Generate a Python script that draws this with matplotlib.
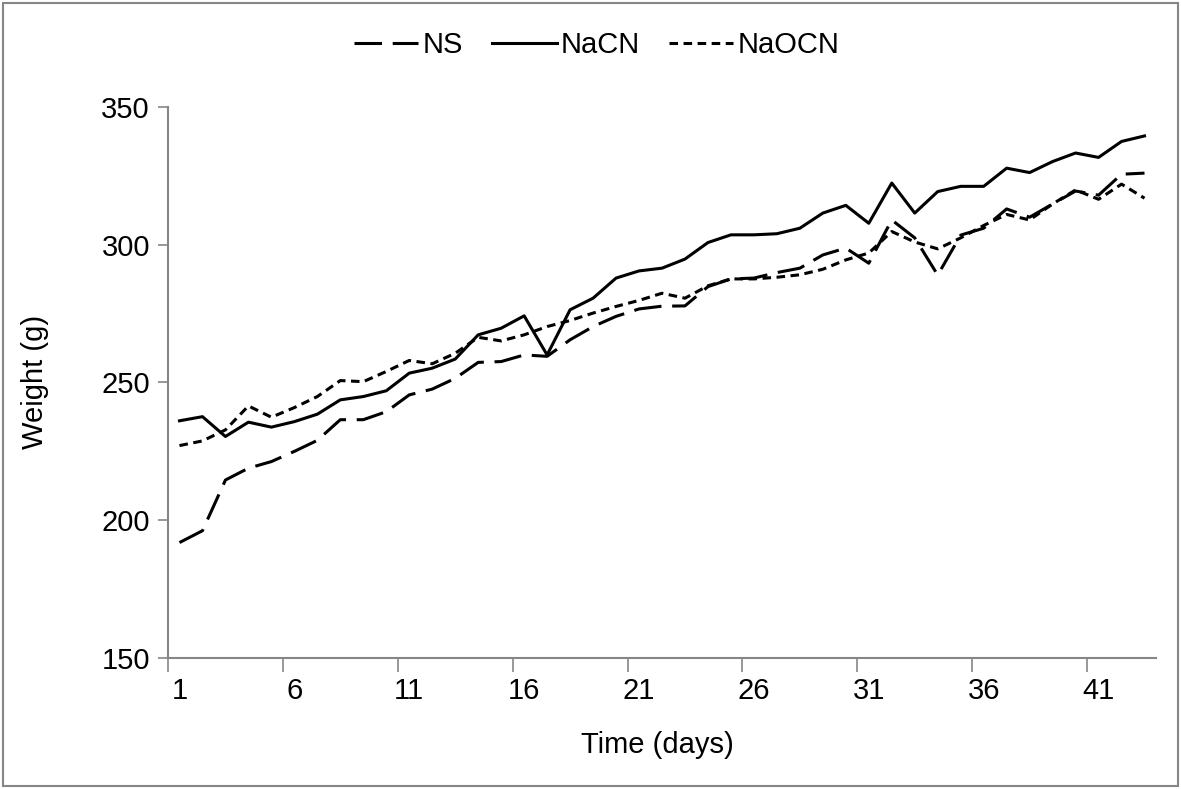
import matplotlib.pyplot as plt
from matplotlib.patches import Rectangle
import numpy as np

# data (weight in g, per day)
days = np.arange(1, 44)
ns = [191.9, 196.2, 214.6, 218.9, 221.3, 225.0, 229.0, 236.5, 236.5, 239.4,
      245.5, 247.6, 251.5, 257.3, 257.6, 260.0, 259.5, 265.5, 270.3, 274.0,
      276.7, 277.7, 277.8, 284.8, 287.6, 287.9, 289.9, 291.5, 296.3, 298.8,
      293.3, 309.0, 302.5, 289.0, 303.5, 306.0, 313.0, 310.0, 314.8, 319.5,
      318.0, 325.6, 326.0]
nacn = [236.1, 237.6, 230.4, 235.6, 233.8, 235.8, 238.5, 243.7, 244.9, 247.0,
        253.4, 255.2, 258.5, 267.3, 269.7, 274.2, 260.0, 276.4, 280.6, 287.9,
        290.5, 291.5, 294.8, 300.8, 303.6, 303.6, 304.0, 306.0, 311.5, 314.3,
        307.8, 322.4, 311.5, 319.3, 321.2, 321.2, 327.8, 326.2, 330.2, 333.3,
        331.7, 337.5, 339.5]
naocn = [227.1, 228.8, 232.8, 241.5, 237.4, 240.9, 244.9, 250.7, 250.3, 254.0,
         258.0, 256.8, 260.6, 266.4, 265.1, 267.3, 270.3, 272.5, 275.2, 277.6,
         279.8, 282.4, 280.6, 285.1, 287.6, 287.6, 288.2, 289.1, 291.1, 294.5,
         297.0, 304.8, 301.0, 298.5, 302.5, 307.0, 311.0, 309.0, 314.8, 319.9,
         316.5, 322.0, 316.9]
tick_labels = [1, 6, 11, 16, 21, 26, 31, 36, 41]
y_ticks = [150, 200, 250, 300, 350]

plt.rcParams['font.family'] = ['Liberation Sans Narrow', 'Liberation Sans']
fs = 21
grey = '#868686'

fig = plt.figure(figsize=(11.81, 7.89), dpi=100)
W, H = 1181, 789
ax = fig.add_axes([168 / W, 1 - 658 / H, (1156 - 168) / W, (658 - 107) / H])

lw = 2.2
ax.plot(days, ns, color='black', lw=lw, linestyle=(0, (9, 3.5)),
        dash_capstyle='butt', label='NS')
ax.plot(days, nacn, color='black', lw=lw, linestyle='-', label='NaCN')
ax.plot(days, naocn, color='black', lw=lw, linestyle=(0, (2.8, 1.8)),
        dash_capstyle='butt', label='NaOCN')

ax.set_xlim(0.5, 43.5)
ax.set_ylim(150, 350)

# labels on the categories, tick marks between them
ax.set_xticks(tick_labels)
ax.set_xticklabels([str(t) for t in tick_labels], fontsize=fs)
ax.tick_params(axis='x', which='major', length=0, pad=14)
ax.set_xticks(np.array(tick_labels) - 0.5, minor=True)
ax.tick_params(axis='x', which='minor', length=10, width=1.2, color=grey)

ax.set_yticks(y_ticks)
ax.set_yticklabels([str(t) for t in y_ticks], fontsize=fs)
ax.tick_params(axis='y', length=7, width=1.2, color=grey, pad=6)

for s in ['top', 'right']:
    ax.spines[s].set_visible(False)
for s in ['left', 'bottom']:
    ax.spines[s].set_color(grey)
    ax.spines[s].set_linewidth(1.5)

fig.text(35 / W, 1 - 382 / H, 'Weight (g)', rotation=90, fontsize=fs,
         ha='center', va='center')
fig.text(657 / W, 1 - 745 / H, 'Time (days)', fontsize=fs,
         ha='center', va='center')

fig.legend(loc='center', bbox_to_anchor=(597 / W, 1 - 45 / H), ncol=3,
           frameon=False, fontsize=fs, handlelength=2.2, handletextpad=0.15,
           columnspacing=1.0)

# outer chart border
fig.patches.append(Rectangle((3 / W, 3 / H), 1 - 6 / W, 1 - 6 / H,
                             transform=fig.transFigure, fill=False,
                             edgecolor=grey, lw=1.5))

fig.savefig('out.png', dpi=100)
